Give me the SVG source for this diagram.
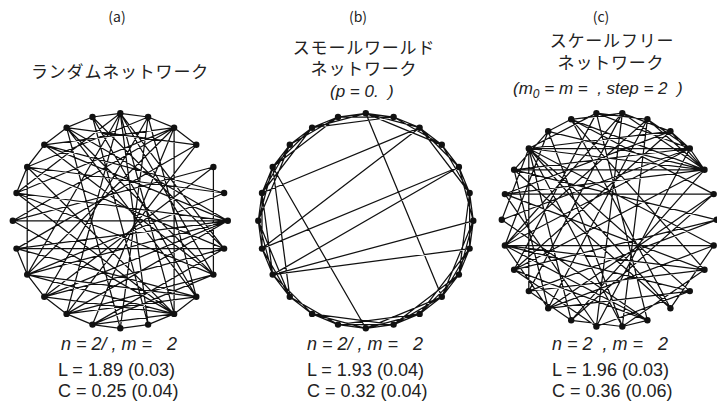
<svg xmlns="http://www.w3.org/2000/svg" width="717" height="407" viewBox="0 0 717 407">
<style>
.e{fill:none;stroke:#111;stroke-width:1.25;stroke-linejoin:round}
.n{fill:#111}
.lab{font-family:"Noto Sans CJK JP","Noto Sans",sans-serif;font-size:14px;fill:#222;text-anchor:middle}
.ttl{font-family:"Noto Sans CJK JP","Noto Sans",sans-serif;font-size:17px;letter-spacing:0.8px;fill:#222;text-anchor:middle}
.par{font-family:"Liberation Sans",Arial,sans-serif;font-size:17px;font-style:italic;fill:#222}
.st{font-family:"Liberation Sans",Arial,sans-serif;font-size:18px;fill:#222}
.it{font-style:italic}
</style>
<rect width="717" height="407" fill="#fff"/>
<g id="texts">
<text class="lab" x="117" y="22">(a)</text>
<text class="ttl" x="120" y="78">ランダムネットワーク</text>
<text class="lab" x="358" y="22">(b)</text>
<text class="ttl" x="364" y="54">スモールワールド<tspan x="364" dy="21">ネットワーク</tspan></text>
<text class="par" x="330" y="97">(p = 0.&#160;&#160;)</text>
<text class="lab" x="601" y="22">(c)</text>
<text class="ttl" x="612" y="47">スケールフリー<tspan x="611" dy="22">ネットワーク</tspan></text>
<text class="par" x="513" y="94">(m<tspan font-size="12" dy="4">0</tspan><tspan dy="-4"> = m = &#160;, step = 2 &#160;)</tspan></text>
<text class="st it" x="61" y="350">n = 2/ , m = &#160; 2</text>
<text class="st" x="58" y="376">L = 1.89 (0.03)</text>
<text class="st" x="58" y="397">C = 0.25 (0.04)</text>
<text class="st it" x="307" y="350">n = 2/ , m = &#160; 2</text>
<text class="st" x="307" y="376">L = 1.93 (0.04)</text>
<text class="st" x="307" y="397">C = 0.32 (0.04)</text>
<text class="st it" x="552" y="350">n = 2 &#160;, m = &#160; 2</text>
<text class="st" x="552" y="376">L = 1.96 (0.03)</text>
<text class="st" x="552" y="397">C = 0.36 (0.06)</text>
</g>
<g id="connectors">
<path id="edges-a" class="e" d="M174.1 127.7L148.1 117M148.1 117L120.3 113.3M120.3 113.3L92.5 117M92.5 117L66.6 127.7M66.6 127.7L44.3 144.8M196.3 144.8L174.1 127.7M44.3 144.8L27.2 167M27.2 167L16.5 193M16.5 248.6L27.2 274.6M27.2 274.6L44.3 296.8M44.3 296.8L66.6 313.9M66.6 313.9L92.5 324.6M92.5 324.6L120.3 328.3M120.3 328.3L148.1 324.6M148.1 324.6L174.1 313.9M174.1 313.9L196.3 296.8M227.8 220.8L12.8 220.8M227.8 220.8L16.5 193M227.8 220.8L16.5 248.6M227.8 220.8L27.2 274.6M227.8 220.8L44.3 296.8M227.8 220.8L44.3 144.8M227.8 220.8L66.6 127.7M227.8 220.8L66.6 313.9M224.1 193L27.2 167M224.1 193L27.2 274.6M224.1 193L44.3 144.8M213.4 167L213.4 274.6M213.4 167L12.8 220.8M213.4 167L44.3 296.8M196.3 144.8L16.5 248.6M196.3 144.8L66.6 127.7M196.3 144.8L66.6 313.9M174.1 127.7L174.1 313.9M174.1 127.7L16.5 193M174.1 127.7L27.2 274.6M174.1 127.7L12.8 220.8M174.1 127.7L44.3 144.8M174.1 127.7L92.5 324.6M148.1 117L120.3 328.3M148.1 117L44.3 296.8M148.1 117L196.3 296.8M148.1 117L27.2 167M120.3 113.3L27.2 274.6M120.3 113.3L66.6 313.9M120.3 113.3L148.1 324.6M120.3 113.3L174.1 313.9M120.3 113.3L213.4 274.6M120.3 113.3L16.5 193M120.3 113.3L224.1 248.6M92.5 117L196.3 296.8M92.5 117L148.1 324.6M92.5 117L224.1 248.6M66.6 127.7L120.3 328.3M66.6 127.7L213.4 274.6M66.6 127.7L196.3 296.8M44.3 144.8L213.4 274.6M27.2 167L27.2 274.6M27.2 167L174.1 313.9M27.2 167L224.1 248.6M16.5 193L174.1 313.9M16.5 193L213.4 274.6M12.8 220.8L174.1 313.9M16.5 248.6L224.1 248.6M16.5 248.6L196.3 296.8M27.2 274.6L174.1 313.9M27.2 274.6L196.3 296.8M44.3 296.8L174.1 313.9M44.3 296.8L224.1 248.6M66.6 313.9L196.3 296.8M66.6 313.9L213.4 274.6M92.5 324.6L174.1 313.9M92.5 324.6L213.4 274.6M92.5 324.6L224.1 248.6"/>
<path id="edges-b" class="e" d="M473.3 220.8L469.6 193L458.9 167L441.8 144.8L419.6 127.7L393.6 117L365.8 113.3L338 117L312.1 127.7L289.8 144.8L272.7 167L262 193L258.3 220.8L262 248.6L272.7 274.6L289.8 296.8L312.1 313.9L338 324.6L365.8 328.3L393.6 324.6L419.6 313.9L441.8 296.8L458.9 274.6L469.6 248.6Z M473.3 220.8L458.9 167L419.6 127.7L365.8 113.3L312.1 127.7L272.7 167L258.3 220.8L272.7 274.6L312.1 313.9L365.8 328.3L419.6 313.9L458.9 274.6Z M469.6 193L441.8 144.8L393.6 117L338 117L289.8 144.8L262 193L262 248.6L289.8 296.8L338 324.6L393.6 324.6L441.8 296.8L469.6 248.6Z M469.6 193L419.6 127.7M441.8 144.8L365.8 113.3M393.6 117L312.1 127.7M338 117L272.7 167M312.1 127.7L262 193M289.8 144.8L258.3 220.8M262 193L272.7 274.6M258.3 220.8L289.8 296.8M312.1 313.9L393.6 324.6M338 324.6L419.6 313.9M365.8 328.3L441.8 296.8M393.6 324.6L458.9 274.6M419.6 313.9L469.6 248.6M441.8 296.8L473.3 220.8M458.9 274.6L469.6 193M419.6 127.7L262 193M419.6 127.7L262 248.6M365.8 113.3L441.8 296.8M272.7 167L365.8 328.3M272.7 167L289.8 296.8M458.9 167L262 248.6M473.3 220.8L272.7 274.6M469.6 248.6L272.7 274.6M458.9 167L272.7 274.6"/>
<path id="edges-c" class="e" d="M528.8 148.5L528.8 291.1M528.8 148.5L670.4 131.3M528.8 148.5L689.8 148.5M528.8 148.5L704.5 169.8M528.8 148.5L622.3 326.5M528.8 148.5L670.4 308.3M528.8 148.5L689.8 291.1M528.8 148.5L501.8 219.8M528.8 148.5L596.4 113.1M528.8 148.5L713.7 245.5M528.8 148.5L571.2 320.3M504.9 245.5L713.7 245.5M504.9 245.5L704.5 269.8M504.9 245.5L689.8 291.1M504.9 245.5L647.4 320.3M504.9 245.5L622.3 113.1M504.9 245.5L647.4 119.3M504.9 245.5L548.2 131.3M504.9 245.5L548.2 308.3M504.9 245.5L689.8 148.5M704.5 169.8L689.8 148.5M704.5 169.8L670.4 131.3M704.5 169.8L647.4 119.3M704.5 169.8L622.3 113.1M704.5 169.8L571.2 119.3M704.5 169.8L548.2 131.3M704.5 169.8L514.1 169.8M704.5 169.8L504.9 194.1M704.5 169.8L514.1 269.8M704.5 169.8L571.2 320.3M689.8 148.5L670.4 131.3M689.8 148.5L647.4 119.3M689.8 148.5L596.4 113.1M689.8 148.5L514.1 169.8M689.8 148.5L501.8 219.8M689.8 148.5L596.4 326.5M713.7 194.1L504.9 194.1M713.7 194.1L571.2 119.3M713.7 194.1L548.2 308.3M716.8 219.8L514.1 269.8M716.8 219.8L514.1 169.8M716.8 219.8L528.8 291.1M670.4 131.3L622.3 113.1M670.4 131.3L504.9 194.1M670.4 131.3L514.1 269.8M647.4 119.3L596.4 113.1M647.4 119.3L548.2 308.3M647.4 119.3L622.3 326.5M622.3 113.1L571.2 119.3M622.3 113.1L528.8 291.1M622.3 113.1L596.4 326.5M596.4 113.1L514.1 269.8M596.4 113.1L647.4 320.3M571.2 119.3L548.2 131.3M571.2 119.3L670.4 308.3M571.2 119.3L704.5 269.8M548.2 131.3L514.1 169.8M548.2 131.3L622.3 326.5M514.1 169.8L548.2 308.3M514.1 169.8L670.4 308.3M504.9 194.1L596.4 326.5M504.9 194.1L704.5 269.8M501.8 219.8L647.4 320.3M514.1 269.8L647.4 320.3M514.1 269.8L596.4 326.5M528.8 291.1L571.2 320.3M528.8 291.1L704.5 269.8M548.2 308.3L689.8 291.1M548.2 308.3L713.7 245.5M571.2 320.3L622.3 326.5M571.2 320.3L713.7 194.1M596.4 326.5L689.8 291.1M622.3 326.5L704.5 269.8M622.3 326.5L647.4 320.3M670.4 308.3L713.7 245.5"/>
</g>
<g id="nodes-a">
<g id="a0"><circle class="n" cx="227.8" cy="220.8" r="3.2"/></g>
<g id="a1"><circle class="n" cx="224.1" cy="193" r="3.2"/></g>
<g id="a2"><circle class="n" cx="213.4" cy="167" r="3.2"/></g>
<g id="a3"><circle class="n" cx="196.3" cy="144.8" r="3.2"/></g>
<g id="a4"><circle class="n" cx="174.1" cy="127.7" r="3.2"/></g>
<g id="a5"><circle class="n" cx="148.1" cy="117" r="3.2"/></g>
<g id="a6"><circle class="n" cx="120.3" cy="113.3" r="3.2"/></g>
<g id="a7"><circle class="n" cx="92.5" cy="117" r="3.2"/></g>
<g id="a8"><circle class="n" cx="66.6" cy="127.7" r="3.2"/></g>
<g id="a9"><circle class="n" cx="44.3" cy="144.8" r="3.2"/></g>
<g id="a10"><circle class="n" cx="27.2" cy="167" r="3.2"/></g>
<g id="a11"><circle class="n" cx="16.5" cy="193" r="3.2"/></g>
<g id="a12"><circle class="n" cx="12.8" cy="220.8" r="3.2"/></g>
<g id="a13"><circle class="n" cx="16.5" cy="248.6" r="3.2"/></g>
<g id="a14"><circle class="n" cx="27.2" cy="274.6" r="3.2"/></g>
<g id="a15"><circle class="n" cx="44.3" cy="296.8" r="3.2"/></g>
<g id="a16"><circle class="n" cx="66.6" cy="313.9" r="3.2"/></g>
<g id="a17"><circle class="n" cx="92.5" cy="324.6" r="3.2"/></g>
<g id="a18"><circle class="n" cx="120.3" cy="328.3" r="3.2"/></g>
<g id="a19"><circle class="n" cx="148.1" cy="324.6" r="3.2"/></g>
<g id="a20"><circle class="n" cx="174.1" cy="313.9" r="3.2"/></g>
<g id="a21"><circle class="n" cx="196.3" cy="296.8" r="3.2"/></g>
<g id="a22"><circle class="n" cx="213.4" cy="274.6" r="3.2"/></g>
<g id="a23"><circle class="n" cx="224.1" cy="248.6" r="3.2"/></g>
</g>
<g id="nodes-b">
<g id="b0"><circle class="n" cx="473.3" cy="220.8" r="3.2"/></g>
<g id="b1"><circle class="n" cx="469.6" cy="193" r="3.2"/></g>
<g id="b2"><circle class="n" cx="458.9" cy="167" r="3.2"/></g>
<g id="b3"><circle class="n" cx="441.8" cy="144.8" r="3.2"/></g>
<g id="b4"><circle class="n" cx="419.6" cy="127.7" r="3.2"/></g>
<g id="b5"><circle class="n" cx="393.6" cy="117" r="3.2"/></g>
<g id="b6"><circle class="n" cx="365.8" cy="113.3" r="3.2"/></g>
<g id="b7"><circle class="n" cx="338" cy="117" r="3.2"/></g>
<g id="b8"><circle class="n" cx="312.1" cy="127.7" r="3.2"/></g>
<g id="b9"><circle class="n" cx="289.8" cy="144.8" r="3.2"/></g>
<g id="b10"><circle class="n" cx="272.7" cy="167" r="3.2"/></g>
<g id="b11"><circle class="n" cx="262" cy="193" r="3.2"/></g>
<g id="b12"><circle class="n" cx="258.3" cy="220.8" r="3.2"/></g>
<g id="b13"><circle class="n" cx="262" cy="248.6" r="3.2"/></g>
<g id="b14"><circle class="n" cx="272.7" cy="274.6" r="3.2"/></g>
<g id="b15"><circle class="n" cx="289.8" cy="296.8" r="3.2"/></g>
<g id="b16"><circle class="n" cx="312.1" cy="313.9" r="3.2"/></g>
<g id="b17"><circle class="n" cx="338" cy="324.6" r="3.2"/></g>
<g id="b18"><circle class="n" cx="365.8" cy="328.3" r="3.2"/></g>
<g id="b19"><circle class="n" cx="393.6" cy="324.6" r="3.2"/></g>
<g id="b20"><circle class="n" cx="419.6" cy="313.9" r="3.2"/></g>
<g id="b21"><circle class="n" cx="441.8" cy="296.8" r="3.2"/></g>
<g id="b22"><circle class="n" cx="458.9" cy="274.6" r="3.2"/></g>
<g id="b23"><circle class="n" cx="469.6" cy="248.6" r="3.2"/></g>
</g>
<g id="nodes-c">
<g id="c0"><circle class="n" cx="716.8" cy="219.8" r="3.2"/></g>
<g id="c1"><circle class="n" cx="713.7" cy="194.1" r="3.2"/></g>
<g id="c2"><circle class="n" cx="704.5" cy="169.8" r="3.2"/></g>
<g id="c3"><circle class="n" cx="689.8" cy="148.5" r="3.2"/></g>
<g id="c4"><circle class="n" cx="670.4" cy="131.3" r="3.2"/></g>
<g id="c5"><circle class="n" cx="647.4" cy="119.3" r="3.2"/></g>
<g id="c6"><circle class="n" cx="622.3" cy="113.1" r="3.2"/></g>
<g id="c7"><circle class="n" cx="596.4" cy="113.1" r="3.2"/></g>
<g id="c8"><circle class="n" cx="571.2" cy="119.3" r="3.2"/></g>
<g id="c9"><circle class="n" cx="548.2" cy="131.3" r="3.2"/></g>
<g id="c10"><circle class="n" cx="528.8" cy="148.5" r="3.2"/></g>
<g id="c11"><circle class="n" cx="514.1" cy="169.8" r="3.2"/></g>
<g id="c12"><circle class="n" cx="504.9" cy="194.1" r="3.2"/></g>
<g id="c13"><circle class="n" cx="501.8" cy="219.8" r="3.2"/></g>
<g id="c14"><circle class="n" cx="504.9" cy="245.5" r="3.2"/></g>
<g id="c15"><circle class="n" cx="514.1" cy="269.8" r="3.2"/></g>
<g id="c16"><circle class="n" cx="528.8" cy="291.1" r="3.2"/></g>
<g id="c17"><circle class="n" cx="548.2" cy="308.3" r="3.2"/></g>
<g id="c18"><circle class="n" cx="571.2" cy="320.3" r="3.2"/></g>
<g id="c19"><circle class="n" cx="596.4" cy="326.5" r="3.2"/></g>
<g id="c20"><circle class="n" cx="622.3" cy="326.5" r="3.2"/></g>
<g id="c21"><circle class="n" cx="647.4" cy="320.3" r="3.2"/></g>
<g id="c22"><circle class="n" cx="670.4" cy="308.3" r="3.2"/></g>
<g id="c23"><circle class="n" cx="689.8" cy="291.1" r="3.2"/></g>
<g id="c24"><circle class="n" cx="704.5" cy="269.8" r="3.2"/></g>
<g id="c25"><circle class="n" cx="713.7" cy="245.5" r="3.2"/></g>
</g>
</svg>
